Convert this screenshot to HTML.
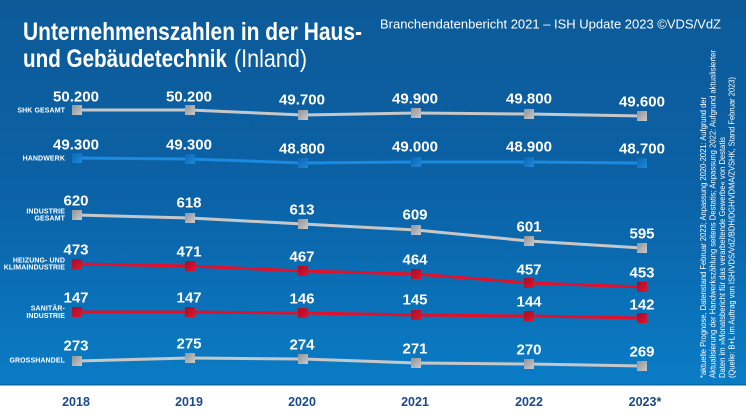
<!DOCTYPE html>
<html><head><meta charset="utf-8"><style>
html,body{margin:0;padding:0;background:#fff;}
svg{display:block;font-family:"Liberation Sans",Arial,sans-serif;}
</style></head><body>
<svg width="746" height="419" viewBox="0 0 746 419" xmlns="http://www.w3.org/2000/svg">
<defs>
<linearGradient id="bg" x1="0" y1="0" x2="0" y2="1">
<stop offset="0" stop-color="#0c5a98"/>
<stop offset="0.5" stop-color="#0b62a6"/>
<stop offset="1" stop-color="#0a7cc5"/>
</linearGradient>
<linearGradient id="mg" x1="0" y1="0" x2="1" y2="1">
<stop offset="0" stop-color="#8f9297"/>
<stop offset="1" stop-color="#c9cacc"/>
</linearGradient>
<linearGradient id="mr" x1="0" y1="0" x2="1" y2="1">
<stop offset="0" stop-color="#a40f25"/>
<stop offset="1" stop-color="#e0142f"/>
</linearGradient>
<linearGradient id="mb" x1="0" y1="0" x2="1" y2="1">
<stop offset="0" stop-color="#0e68b4"/>
<stop offset="1" stop-color="#1a8ad8"/>
</linearGradient>
</defs>
<rect x="0" y="0" width="746" height="385" fill="url(#bg)"/>
<rect x="0" y="384" width="746" height="1.5" fill="#0968a8"/>

<!-- Title -->
<text x="23" y="40" font-size="25" font-weight="bold" fill="#fff" textLength="339" lengthAdjust="spacingAndGlyphs">Unternehmenszahlen in der Haus-</text>
<text x="23" y="67" font-size="25" font-weight="bold" fill="#fff" textLength="204" lengthAdjust="spacingAndGlyphs">und Gebäudetechnik</text>
<text x="234" y="67" font-size="25" fill="#fff" textLength="73" lengthAdjust="spacingAndGlyphs">(Inland)</text>

<text x="380" y="28.5" font-size="12.5" fill="#fff" textLength="341" lengthAdjust="spacingAndGlyphs">Branchendatenbericht 2021 – ISH Update 2023 ©VDS/VdZ</text>

<!-- Footnote rotated -->
<g font-size="8" fill="#fff">
<text transform="translate(706,378) rotate(-90)" textLength="281" lengthAdjust="spacingAndGlyphs">*aktuelle Prognose, Datenstand Februar 2023; Anpassung 2020-2021: Aufgrund der</text>
<text transform="translate(715.5,378) rotate(-90)" textLength="328" lengthAdjust="spacingAndGlyphs">Aktualisierung der Handwerkszählung seitens Destatis; Anpassung 2022: Aufgrund aktualisierter</text>
<text transform="translate(725,378) rotate(-90)" textLength="241" lengthAdjust="spacingAndGlyphs">Daten im »Monatsbericht für das verarbeitende Gewerbe« von Destatis</text>
<text transform="translate(734.5,378) rotate(-90)" textLength="301" lengthAdjust="spacingAndGlyphs">(Quelle: B+L im Auftrag von ISH/VDS/VdZ/BDH/DGH/VDMA/ZVSHK, Stand Februar 2023)</text>
</g>

<!-- Row labels -->
<g font-size="7" font-weight="bold" fill="#fff" text-anchor="end" letter-spacing="0.1">
<text x="65" y="112.5">SHK GESAMT</text>
<text x="65" y="160.5">HANDWERK</text>
<text x="65" y="213.5">INDUSTRIE</text>
<text x="65" y="220.5">GESAMT</text>
<text x="65" y="262.5">HEIZUNG- UND</text>
<text x="65" y="269.5">KLIMAINDUSTRIE</text>
<text x="65" y="310.5">SANITÄR-</text>
<text x="65" y="318">INDUSTRIE</text>
<text x="65" y="362.5">GROSSHANDEL</text>
</g>

<!-- Lines -->
<g fill="none" stroke-width="3" stroke-linejoin="round">
<polyline stroke="#c6c7c9" points="77,110 190,110 303,115 416,113 529,114 642,116"/>
<polyline stroke="#1a8be0" points="77,158 190,159 303,163 416,162 529,162 642,163"/>
<polyline stroke="#c6c7c9" points="77,215 190,218 303,224 416,230 529,241 642,248"/>
<polyline stroke="#e3102c" points="77,264 190,266 303,271 416,274 529,283 642,287"/>
<polyline stroke="#e3102c" points="77,312 190,312 303,313 416,315 529,316 642,318"/>
<polyline stroke="#c6c7c9" points="77,361 190,358 303,359 416,363 529,364 642,366"/>
</g>

<!-- Markers -->
<g fill="url(#mg)">
<rect x="72" y="105" width="10" height="10"/><rect x="185" y="105" width="10" height="10"/><rect x="298" y="110" width="10" height="10"/><rect x="411" y="108" width="10" height="10"/><rect x="524" y="109" width="10" height="10"/><rect x="637" y="111" width="10" height="10"/>
<rect x="72" y="210" width="10" height="10"/><rect x="185" y="213" width="10" height="10"/><rect x="298" y="219" width="10" height="10"/><rect x="411" y="225" width="10" height="10"/><rect x="524" y="236" width="10" height="10"/><rect x="637" y="243" width="10" height="10"/>
<rect x="72" y="356" width="10" height="10"/><rect x="185" y="353" width="10" height="10"/><rect x="298" y="354" width="10" height="10"/><rect x="411" y="358" width="10" height="10"/><rect x="524" y="359" width="10" height="10"/><rect x="637" y="361" width="10" height="10"/>
</g>
<g fill="url(#mb)">
<rect x="72" y="153" width="10" height="10"/><rect x="185" y="154" width="10" height="10"/><rect x="298" y="158" width="10" height="10"/><rect x="411" y="157" width="10" height="10"/><rect x="524" y="157" width="10" height="10"/><rect x="637" y="158" width="10" height="10"/>
</g>
<g fill="url(#mr)">
<rect x="72" y="259" width="10" height="10"/><rect x="185" y="261" width="10" height="10"/><rect x="298" y="266" width="10" height="10"/><rect x="411" y="269" width="10" height="10"/><rect x="524" y="278" width="10" height="10"/><rect x="637" y="282" width="10" height="10"/>
<rect x="72" y="307" width="10" height="10"/><rect x="185" y="307" width="10" height="10"/><rect x="298" y="308" width="10" height="10"/><rect x="411" y="310" width="10" height="10"/><rect x="524" y="311" width="10" height="10"/><rect x="637" y="313" width="10" height="10"/>
</g>

<!-- Value labels -->
<g font-size="15" font-weight="bold" fill="#fff" text-anchor="middle">
<text x="76" y="101.5">50.200</text><text x="189" y="101.5">50.200</text><text x="302" y="104.5">49.700</text><text x="415" y="103.5">49.900</text><text x="529" y="103.5">49.800</text><text x="642" y="106.5">49.600</text>
<text x="76" y="149.5">49.300</text><text x="189" y="149.5">49.300</text><text x="302" y="153.5">48.800</text><text x="415" y="151.5">49.000</text><text x="529" y="151.5">48.900</text><text x="642" y="153.5">48.700</text>
<text x="76" y="205.5">620</text><text x="189" y="207.5">618</text><text x="302" y="214.5">613</text><text x="415" y="219.5">609</text><text x="529" y="231.5">601</text><text x="642" y="238.5">595</text>
<text x="76" y="254.5">473</text><text x="189" y="256.5">471</text><text x="302" y="261.5">467</text><text x="415" y="264.5">464</text><text x="529" y="274.5">457</text><text x="642" y="277.5">453</text>
<text x="76" y="302.5">147</text><text x="189" y="302.5">147</text><text x="302" y="303.5">146</text><text x="415" y="304.5">145</text><text x="529" y="306.5">144</text><text x="642" y="309.5">142</text>
<text x="76" y="350.5">273</text><text x="189" y="348.5">275</text><text x="302" y="349.5">274</text><text x="415" y="353.5">271</text><text x="529" y="354.5">270</text><text x="642" y="356.5">269</text>
</g>

<!-- Year axis -->
<g font-size="12.5" font-weight="bold" fill="#1b4a87" text-anchor="middle">
<text x="76" y="406">2018</text>
<text x="189" y="406">2019</text>
<text x="302" y="406">2020</text>
<text x="415" y="406">2021</text>
<text x="529" y="406">2022</text>
<text x="645" y="406">2023*</text>
</g>
</svg>
</body></html>
